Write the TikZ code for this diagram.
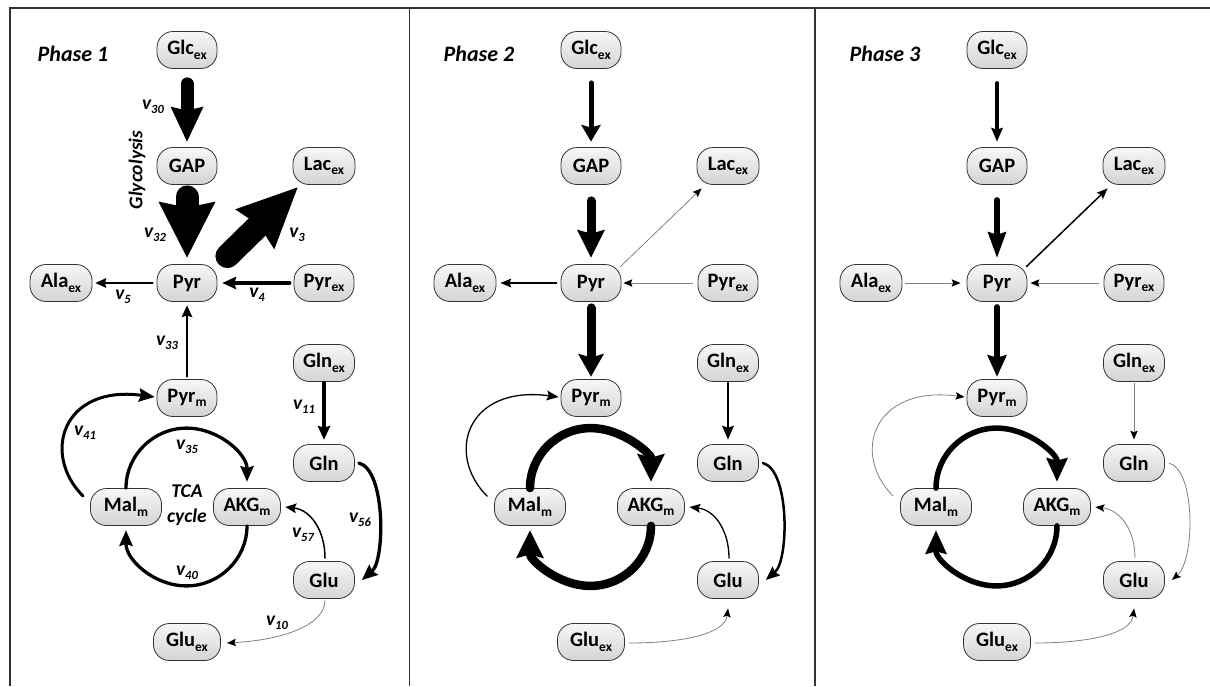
\documentclass[tikz,border=0pt]{standalone}
\usepackage{fontspec}
\setmainfont{Carlito}
\usetikzlibrary{arrows.meta,calc}
\newcommand\subx[1]{\raisebox{-0.22em}{\fontsize{13.5}{14}\selectfont #1}}
\newcommand\labsub[1]{\raisebox{-0.22em}{\fontsize{12.5}{13}\selectfont #1}}
\newcommand\nodefont{\fontsize{20.5}{21}\selectfont\bfseries}
\newcommand\labfont{\fontsize{19.5}{20}\selectfont\bfseries\itshape}
\newcommand\titlefont{\fontsize{22}{24}\selectfont\bfseries\itshape}
\newcommand\vv[1]{v\labsub{#1}}
\tikzset{
  met/.style={draw=black!80, line width=0.8pt, rounded corners=16pt,
    top color=gray!6, bottom color=gray!34, minimum height=37pt,
    minimum width=60pt, inner sep=2pt, font=\nodefont},
  lab/.style={font=\labfont, inner sep=0pt},
  ttl/.style={font=\titlefont, inner sep=0pt, anchor=base},
  panelline/.style={line width=1.4pt, draw=black!80},
  fx/.style n args={4}{line width=#1pt, line cap=round,
    -{Stealth[length=#2pt, width=#3pt, inset=#4pt, line width=0pt]}},
  gfx/.style={line width=0.8pt, draw=black!50,
    -{Stealth[length=9pt, width=7.5pt, inset=1.5pt, line width=0pt, color=black]}}
}
\newcommand\metnodes[2]{%
  \node[met] (#1glc) at ({#2+187},50) {Glc\subx{ex}};
  \node[met] (#1gap) at ({#2+187},166) {GAP};
  \node[met, minimum width=62pt] (#1lac) at ({#2+324},166) {Lac\subx{ex}};
  \node[met] (#1pyr) at ({#2+187},283) {Pyr};
  \node[met, minimum width=62pt] (#1ala) at ({#2+61},283) {Ala\subx{ex}};
  \node[met] (#1pyrex) at ({#2+324},283) {Pyr\subx{ex}};
  \node[met] (#1pyrm) at ({#2+187},398) {Pyr\subx{m}};
  \node[met, minimum width=61pt] (#1glnex) at ({#2+324},363) {Gln\subx{ex}};
  \node[met, minimum width=61pt] (#1gln) at ({#2+324},463) {Gln};
  \node[met, minimum width=71pt] (#1mal) at ({#2+126},507) {Mal\subx{m}};
  \node[met, minimum width=67pt] (#1akg) at ({#2+247},507) {AKG\subx{m}};
  \node[met, minimum width=61pt] (#1glu) at ({#2+324},580) {Glu};
  \node[met, minimum width=67pt] (#1gluex) at ({#2+187},642) {Glu\subx{ex}};
}
\begin{document}
\begin{tikzpicture}[x=1pt, y=-1pt]
\useasboundingbox (0,0) rectangle (1210,686);
% frame
\draw[panelline] (10,686) -- (10,8) -- (1210,8);
\draw[panelline] (409.5,8) -- (409.5,686);
\draw[panelline] (815,8) -- (815,686);
% titles
\node[ttl] (t1) at (73,61.5) {Phase 1};
\node[ttl] (t2) at (479,61.5) {Phase 2};
\node[ttl] (t3) at (885,61.5) {Phase 3};
% nodes
\metnodes{a}{0}
\metnodes{b}{404}
\metnodes{c}{810}

% ---------------- Phase 1 ----------------
\draw[fx={13}{35}{33}{4}] ($(aglc.south)+(0,15)$) -- ($(agap.north)+(0,-5.5)$);
\draw[fx={23}{56}{57}{6}] ($(agap.south)+(0,12)$) -- ($(apyr.north)+(0,-6.5)$);
\draw[fx={24}{60}{56}{6}] ($(apyr.north east)+(10,-8)$) -- ($(alac.south west)+(5,2.5)$);
\draw[fx={2}{11}{10}{1.5}] ($(apyr.west)+(-4,0)$) -- ($(aala.east)+(3,0)$);
\draw[fx={3.5}{14}{13}{2}] ($(apyrex.west)+(-4,0)$) -- ($(apyr.east)+(5,0)$);
\draw[fx={1.8}{12}{11}{2}] ($(apyrm.north)+(0,-2.5)$) -- ($(apyr.south)+(0,3.5)$);
\draw[fx={3}{16}{14}{2.5}] ($(amal.north west)+(-7,8)$) .. controls +(-42,-42) and +(-92,-12) .. ($(apyrm.west)+(-2,-1)$);
\coordinate (atop) at ($(amal.north)!0.5!(aakg.north)+(0,-60)$);
\coordinate (abot) at ($(amal.south)!0.5!(aakg.south)+(0,60)$);
\draw[fx={3.3}{16}{14}{2.5}] (amal.north) .. controls +(0,-33) and +(-33,0) .. (atop) .. controls +(33,0) and +(0,-27) .. ($(aakg.north)+(0,-6.5)$);
\draw[fx={3.3}{16}{14}{2.5}] (aakg.south) .. controls +(0,33) and +(33,0) .. (abot) .. controls +(-33,0) and +(0,29) .. ($(amal.south)+(0,4.5)$);
\draw[fx={4}{14}{13}{2}] ($(aglnex.south)+(0,1)$) -- ($(agln.north)+(0,-4.5)$);
\draw[fx={3.3}{16}{14}{2.5}] ($(agln.east)+(4,0)$) .. controls +(27,7) and +(23,-20) .. ($(aglu.east)+(7,0)$);
\draw[fx={1.5}{11}{10}{2}] ($(aglu.north)+(1,-3)$) .. controls +(0,-28) and +(25,3) .. ($(aakg.east)+(4.5,0)$);
\draw[gfx] ($(aglu.south)+(1,1.5)$) .. controls +(0,25) and +(55,-3) .. ($(agluex.east)+(6,1)$);
% labels
\node[lab] (l30) at (153,107) {\vv{30}};
\node[lab, rotate=90] (lgly) at (137,170) {Glycolysis};
\node[lab] (l32) at (155,235) {\vv{32}};
\node[lab] (l3) at (297,235) {\vv{3}};
\node[lab] (l5) at (123,297) {\vv{5}};
\node[lab] (l4) at (257,295) {\vv{4}};
\node[lab] (l33) at (167,343) {\vv{33}};
\node[lab] (l41) at (85,433) {\vv{41}};
\node[lab] (l35) at (187,447) {\vv{35}};
\node[lab, align=center, font=\fontsize{19.5}{25}\selectfont\bfseries\itshape] (ltca) at (187,505.5) {TCA\\cycle};
\node[lab] (l40) at (187,573) {\vv{40}};
\node[lab] (l11) at (304,407) {\vv{11}};
\node[lab] (l56) at (360,520) {\vv{56}};
\node[lab] (l57) at (303,535) {\vv{57}};
\node[lab] (l10) at (277,623) {\vv{10}};

% ---------------- Phase 2 ----------------
\draw[fx={5}{17}{20}{3}] ($(bglc.south)+(0,14)$) -- ($(bgap.north)+(0,-5.5)$);
\draw[fx={9}{28}{28}{4}] ($(bgap.south)+(0,16)$) -- ($(bpyr.north)+(0,-6.5)$);
\draw[gfx] ($(bpyr.north east)+(-1,2.5)$) -- ($(blac.south west)+(5,3.5)$);
\draw[fx={1.5}{11}{9}{2}] ($(bpyr.west)+(-4,0)$) -- ($(bala.east)+(4,0)$);
\draw[gfx] ($(bpyrex.west)+(-5,0)$) -- ($(bpyr.east)+(2,0)$);
\draw[fx={9}{23}{26}{4}] ($(bpyr.south)+(0,6)$) -- ($(bpyrm.north)+(0,-2.5)$);
\draw[fx={1.3}{12}{10}{2}] ($(bmal.north west)+(-7,8)$) .. controls +(-42,-42) and +(-92,-12) .. ($(bpyrm.west)+(-2,-1)$);
\coordinate (btop) at ($(bmal.north)!0.5!(bakg.north)+(0,-60)$);
\coordinate (bbot) at ($(bmal.south)!0.5!(bakg.south)+(0,60)$);
\draw[fx={8.5}{28}{28}{4}] (bmal.north) .. controls +(0,-33) and +(-33,0) .. (btop) .. controls +(33,0) and +(0,-27) .. ($(bakg.north)+(0,-6.5)$);
\draw[fx={8.5}{28}{28}{4}] (bakg.south) .. controls +(0,33) and +(33,0) .. (bbot) .. controls +(-33,0) and +(0,29) .. ($(bmal.south)+(0,4.5)$);
\draw[fx={2.5}{14}{12}{2}] ($(bglnex.south)+(0,1)$) -- ($(bgln.north)+(0,-4.5)$);
\draw[fx={2.5}{14}{12}{2}] ($(bgln.east)+(4,0)$) .. controls +(27,7) and +(23,-20) .. ($(bglu.east)+(7,0)$);
\draw[fx={1.3}{11}{9}{2}] ($(bglu.north)+(1,-3)$) .. controls +(0,-28) and +(25,3) .. ($(bakg.east)+(4.5,0)$);
\draw[gfx] ($(bgluex.east)+(4,1)$) .. controls +(55,0) and +(-3,25) .. ($(bglu.south)+(0,9.5)$);

% ---------------- Phase 3 ----------------
\draw[fx={3.5}{14}{12}{2}] ($(cglc.south)+(0,14)$) -- ($(cgap.north)+(0,-5.5)$);
\draw[fx={5.5}{26}{19}{3}] ($(cgap.south)+(0,15)$) -- ($(cpyr.north)+(0,-6.5)$);
\draw[fx={1.5}{11}{9}{2}] ($(cpyr.north east)+(-1,2.5)$) -- ($(clac.south west)+(5,3.5)$);
\draw[gfx] ($(cala.east)+(3,0)$) -- ($(cpyr.west)+(-6,0)$);
\draw[gfx] ($(cpyrex.west)+(-5,0)$) -- ($(cpyr.east)+(3,0)$);
\draw[fx={5.5}{22}{20}{3}] ($(cpyr.south)+(0,5)$) -- ($(cpyrm.north)+(0,-2.5)$);
\draw[gfx] ($(cmal.north west)+(-7,8)$) .. controls +(-42,-42) and +(-92,-12) .. ($(cpyrm.west)+(-2,-1)$);
\coordinate (ctop) at ($(cmal.north)!0.5!(cakg.north)+(0,-60)$);
\coordinate (cbot) at ($(cmal.south)!0.5!(cakg.south)+(0,60)$);
\draw[fx={5.5}{24}{22}{3}] (cmal.north) .. controls +(0,-33) and +(-33,0) .. (ctop) .. controls +(33,0) and +(0,-27) .. ($(cakg.north)+(0,-6.5)$);
\draw[fx={5.5}{24}{22}{3}] (cakg.south) .. controls +(0,33) and +(33,0) .. (cbot) .. controls +(-33,0) and +(0,29) .. ($(cmal.south)+(0,4.5)$);
\draw[gfx] ($(cglnex.south)+(0,1)$) -- ($(cgln.north)+(0,-4.5)$);
\draw[gfx] ($(cgln.east)+(4,0)$) .. controls +(27,7) and +(23,-20) .. ($(cglu.east)+(7,0)$);
\draw[gfx] ($(cglu.north)+(1,-3)$) .. controls +(0,-28) and +(25,3) .. ($(cakg.east)+(4.5,0)$);
\draw[gfx] ($(cgluex.east)+(4,1)$) .. controls +(55,0) and +(-3,25) .. ($(cglu.south)+(0,9.5)$);
\end{tikzpicture}
\end{document}
